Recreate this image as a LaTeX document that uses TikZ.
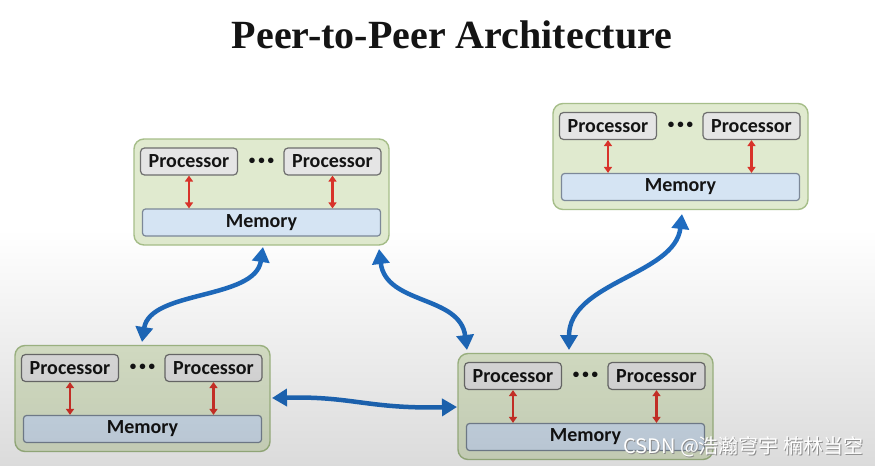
\documentclass[tikz,border=0pt]{standalone}
\usepackage{fontspec}
\setmainfont{Liberation Serif}
\newfontfamily\labelfont{Carlito}
\newfontfamily\cjk{Noto Sans CJK SC}
\usetikzlibrary{arrows.meta,fadings}
\definecolor{outerfill}{HTML}{E0EACF}
\definecolor{outerdraw}{HTML}{A6BE89}
\definecolor{procfill}{HTML}{E5E5E5}
\definecolor{procdraw}{HTML}{6E6E6E}
\definecolor{memfill}{HTML}{D5E4F3}
\definecolor{memdraw}{HTML}{7C8898}
\definecolor{bluearr}{HTML}{1F6CC0}
\definecolor{redarr}{HTML}{D8332A}
\definecolor{txt}{HTML}{141414}
\tikzfading[name=fadedown, top color=transparent!100, bottom color=transparent!0]
\tikzset{
  outerbox/.style={draw=outerdraw, fill=outerfill, line width=1.4pt, rounded corners=10pt,
    minimum width=255pt, minimum height=106pt, inner sep=0pt},
  procbox/.style={draw=procdraw, fill=procfill, line width=1.2pt, rounded corners=4pt,
    minimum width=97pt, minimum height=27pt, inner sep=0pt, font=\labelfont\bfseries\fontsize{20}{20}\selectfont, text=txt},
  membox/.style={draw=memdraw, fill=memfill, line width=1.2pt, rounded corners=3pt,
    minimum width=238pt, minimum height=27pt, inner sep=0pt, font=\labelfont\bfseries\fontsize{20}{20}\selectfont, text=txt},
  dotsnode/.style={font=\labelfont\bfseries\fontsize{13}{13}\selectfont, text=txt, inner sep=0pt},
  redlink/.style={draw=redarr, line width=2.4pt, {Triangle[length=6pt,width=8pt]}-{Triangle[length=6pt,width=8pt]}},
  bluelink/.style={draw=bluearr, line width=4.5pt, {Triangle[length=15pt,width=17pt]}-{Triangle[length=15pt,width=17pt]}},
  wmtext/.style={font=\cjk\fontsize{20}{20}\selectfont, anchor=west, inner sep=0pt}
}
\newcommand{\peercluster}[3]{%
  \begin{scope}[shift={(#2,#3)}]
    \node[outerbox] (#1out) at (0,0) {};
    \node[procbox] (#1p1) at (-72.5,-30.5) {Processor};
    \node[procbox] (#1p2) at (71,-30.5) {Processor};
    \node[dotsnode] (#1dots) at (0,-31) {•\hspace{3pt}•\hspace{3pt}•};
    \node[membox] (#1mem) at (0,30.5) {Memory};
    \draw[redlink] (#1p1.south) -- (#1p1.south |- #1mem.north);
    \draw[redlink] (#1p2.south) -- (#1p2.south |- #1mem.north);
  \end{scope}}
\begin{document}
\begin{tikzpicture}[x=1pt,y=-1pt]
\useasboundingbox (0,0) rectangle (876,466);
\fill[white] (0,0) rectangle (876,466);
\node[font=\bfseries\fontsize{40}{40}\selectfont, text=txt] (title) at (452,35) {Peer-to-Peer Architecture};
\peercluster{A}{261.5}{192}
\peercluster{B}{680.5}{156.5}
\peercluster{C}{142.5}{398.5}
\peercluster{D}{585.5}{406.5}
\coordinate (a1) at (263,247);
\coordinate (c1) at (142,342);
\coordinate (a2) at (379,249);
\coordinate (d2) at (467,350);
\coordinate (c3) at (272,398);
\coordinate (d3) at (457,407);
\coordinate (b4) at (682,214);
\coordinate (d4) at (569,350);
\draw[bluelink] (a1) .. controls (255,300) and (150,290) .. (c1);
\draw[bluelink] (a2) .. controls (386,305) and (460,295) .. (d2);
\draw[bluelink] (c3) .. controls (352,396) and (368,409) .. (d3);
\draw[bluelink] (b4) .. controls (675,275) and (569,282) .. (d4);
\fill[black, opacity=0.14, path fading=fadedown] (0,230) rectangle (876,466);
\node[wmtext, text=black!45] (wmshadow) at (624,448) {CSDN @浩瀚穹宇 楠林当空};
\node[wmtext, text=white] (wm) at (623,447) {CSDN @浩瀚穹宇 楠林当空};
\end{tikzpicture}
\end{document}
